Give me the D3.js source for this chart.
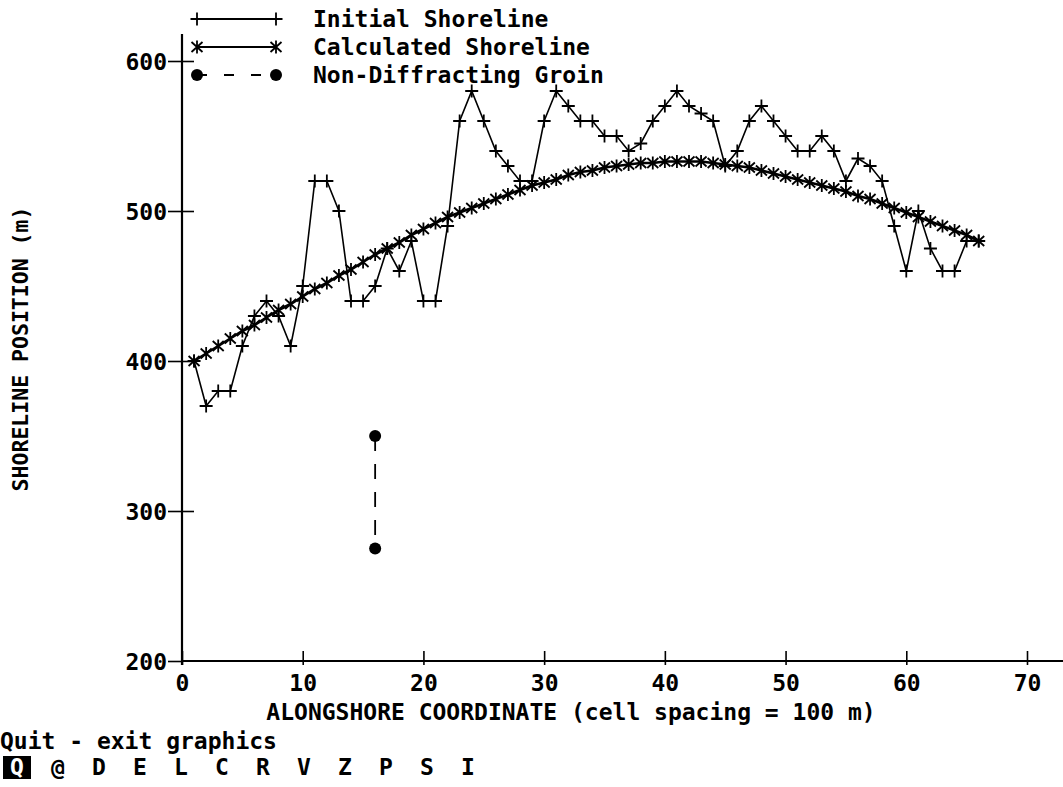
<!DOCTYPE html>
<html>
<head>
<meta charset="utf-8">
<script src="https://cdn.jsdelivr.net/npm/d3@7"></script>
<style>
  html, body { margin: 0; padding: 0; background: #fff; }
  svg { display: block; }
  text { font-family: "DejaVu Sans Mono", "Liberation Mono", monospace; font-weight: bold; fill: #000; }
</style>
</head>
<body>
<svg id="chart" width="1063" height="787"></svg>
<script>
// ---- data ----
const cells = d3.range(1, 67);
const initialShoreline = [400, 370, 380, 380, 410, 430, 440, 430, 410, 450,
  520, 520, 500, 440, 440, 450, 475, 460, 480, 440,
  440, 490, 560, 580, 560, 540, 530, 520, 520, 560,
  580, 570, 560, 560, 550, 550, 540, 545, 560, 570,
  580, 570, 565, 560, 530, 540, 560, 570, 560, 550,
  540, 540, 550, 540, 520, 535, 530, 520, 490, 460,
  500, 475, 460, 460, 480, 480];
const calculatedShoreline = [400, 405, 410, 415, 420, 424, 429, 434, 438, 443,
  448, 452, 457, 461, 466, 471, 475, 479, 484, 488,
  492, 496, 499, 502, 505, 508, 511, 514, 517, 519,
  521, 524, 526, 527, 529, 530, 531, 532, 532, 533,
  533, 533, 533, 532, 531, 530, 529, 527, 525, 523,
  521, 519, 517, 515, 513, 510, 508, 505, 502, 499,
  496, 493, 490, 487, 484, 480];
const groinX = [16, 16];
const groinY = [350, 275];
const xTicks = [0, 10, 20, 30, 40, 50, 60, 70];
const yTicks = [200, 300, 400, 500, 600];
const legendLabels = ["Initial Shoreline", "Calculated Shoreline", "Non-Diffracting Groin"];
const xTitle = "ALONGSHORE COORDINATE (cell spacing = 100 m)";
const yTitle = "SHORELINE POSITION (m)";
const menuTitle = "Quit - exit graphics";
const menuKeys = ["Q", "@", "D", "E", "L", "C", "R", "V", "Z", "P", "S", "I"];

// ---- layout ----
const svg = d3.select("#chart");
const FS = 23;
const x = d3.scaleLinear().domain([0, 70]).range([182, 1027]);
const y = d3.scaleLinear().domain([200, 600]).range([661, 61]);

const plusPath = "M-6.5,0H6.5M0,-6.5V6.5";
const starPath = "M0,-6.5V6.5M-5.5,-5L5.5,5M-5.5,5L5.5,-5";

// axes lines
svg.append("line").attr("x1", x(0)).attr("x2", 1063).attr("y1", y(200)).attr("y2", y(200))
  .attr("stroke", "#000").attr("stroke-width", 2.2);
svg.append("line").attr("x1", x(0)).attr("x2", x(0)).attr("y1", 34).attr("y2", y(200) + 4)
  .attr("stroke", "#000").attr("stroke-width", 2.2);

// x axis
const xAxis = svg.append("g").attr("transform", `translate(0,${y(200)})`)
  .call(d3.axisBottom(x).tickValues(xTicks).tickFormat(d3.format("d")).tickSize(0).tickPadding(0));
xAxis.select(".domain").remove();
xAxis.selectAll(".tick line").attr("y1", -10).attr("y2", 4).attr("stroke", "#000").attr("stroke-width", 1.6);
xAxis.selectAll(".tick text").attr("y", 22).attr("dy", "0.35em").style("font-size", FS + "px");

// y axis
const yAxis = svg.append("g").attr("transform", `translate(${x(0)},0)`)
  .call(d3.axisLeft(y).tickValues(yTicks).tickFormat(d3.format("d")).tickSize(0).tickPadding(0));
yAxis.select(".domain").remove();
yAxis.selectAll(".tick line").attr("x1", -14).attr("x2", 12).attr("stroke", "#000").attr("stroke-width", 1.6);
yAxis.selectAll(".tick").filter(d => d === 200).select("line").attr("x2", 0);
yAxis.selectAll(".tick text").attr("x", -15).attr("dy", "0.36em").style("font-size", FS + "px");
svg.selectAll(".tick text").attr("font-family", null).attr("font-size", null).attr("fill", "#000");

// titles
svg.append("text").attr("x", 571).attr("y", 712).attr("dy", "0.36em").attr("text-anchor", "middle")
  .style("font-size", FS + "px").text(xTitle);
svg.append("text").attr("transform", "translate(20,349) rotate(-90)").attr("dy", "0.36em")
  .attr("text-anchor", "middle").style("font-size", "21.5px").text(yTitle);

// shorelines
const line = d3.line().x(d => x(d[0])).y(d => y(d[1]));
const initPts = cells.map((c, i) => [c, initialShoreline[i]]);
const calcPts = cells.map((c, i) => [c, calculatedShoreline[i]]);

svg.append("path").datum(initPts).attr("d", line).attr("fill", "none")
  .attr("stroke", "#000").attr("stroke-width", 1.6);
svg.append("g").selectAll("path").data(initPts).join("path")
  .attr("transform", d => `translate(${x(d[0])},${y(d[1])})`)
  .attr("d", plusPath).attr("stroke", "#000").attr("stroke-width", 1.8).attr("fill", "none");

svg.append("path").datum(calcPts).attr("d", line).attr("fill", "none")
  .attr("stroke", "#000").attr("stroke-width", 2.6);
svg.append("g").selectAll("path").data(calcPts).join("path")
  .attr("transform", d => `translate(${x(d[0])},${y(d[1])})`)
  .attr("d", starPath).attr("stroke", "#000").attr("stroke-width", 1.8).attr("fill", "none");

// groin
const groinPts = groinX.map((g, i) => [g, groinY[i]]);
svg.append("path").datum(groinPts).attr("d", line).attr("fill", "none")
  .attr("stroke", "#000").attr("stroke-width", 1.8).attr("stroke-dasharray", "15,13");
svg.append("g").selectAll("circle").data(groinPts).join("circle")
  .attr("cx", d => x(d[0])).attr("cy", d => y(d[1])).attr("r", 6).attr("fill", "#000");

// legend
const legY = [19, 47, 75];
const lx1 = 197, lx2 = 276, ltx = 313;
legendLabels.forEach((lab, i) => {
  const g = svg.append("g");
  const ln = g.append("line").attr("x1", lx1).attr("x2", lx2).attr("y1", legY[i]).attr("y2", legY[i])
    .attr("stroke", "#000").attr("stroke-width", i === 1 ? 2.2 : 1.8);
  if (i === 2) ln.attr("stroke-dasharray", "10,17");
  [lx1, lx2].forEach(px => {
    if (i === 0) g.append("path").attr("transform", `translate(${px},${legY[i]})`).attr("d", plusPath)
      .attr("stroke", "#000").attr("stroke-width", 1.8).attr("fill", "none");
    else if (i === 1) g.append("path").attr("transform", `translate(${px},${legY[i]})`).attr("d", starPath)
      .attr("stroke", "#000").attr("stroke-width", 1.8).attr("fill", "none");
    else g.append("circle").attr("cx", px).attr("cy", legY[i]).attr("r", 6).attr("fill", "#000");
  });
  g.append("text").attr("x", ltx).attr("y", legY[i]).attr("dy", "0.36em")
    .style("font-size", FS + "px").text(lab);
});

// menu
svg.append("text").attr("x", 0).attr("y", 741).attr("dy", "0.36em")
  .style("font-size", FS + "px").text(menuTitle);
const kx = d3.scalePoint().domain(menuKeys).range([17, 468]);
svg.append("rect").attr("x", 3).attr("y", 756).attr("width", 28).attr("height", 23).attr("fill", "#000");
svg.append("g").selectAll("text").data(menuKeys).join("text")
  .attr("x", d => kx(d)).attr("y", 767).attr("dy", "0.36em").attr("text-anchor", "middle")
  .style("font-size", FS + "px").style("fill", (d, i) => i === 0 ? "#fff" : "#000").text(d => d);
</script>
</body>
</html>
